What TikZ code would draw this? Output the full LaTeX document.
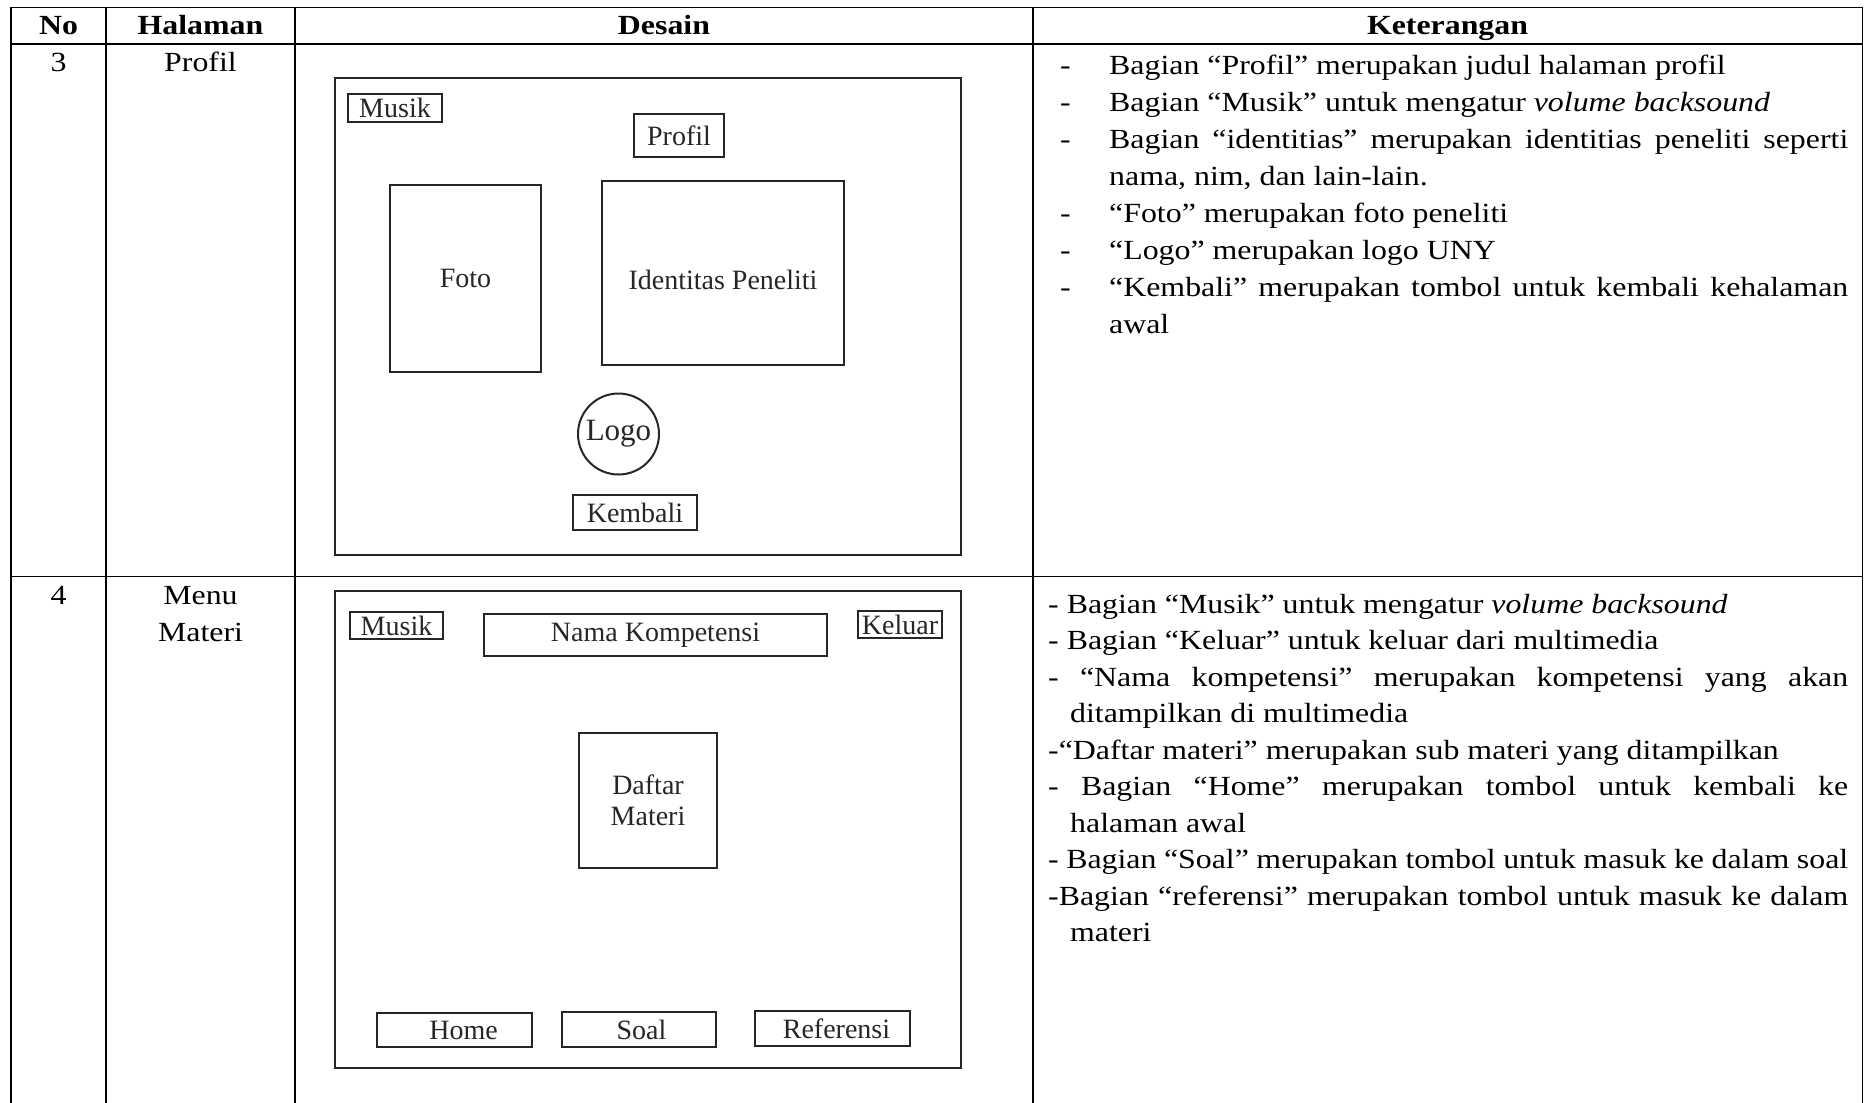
\documentclass[tikz,border=0pt]{standalone}
\usepackage{fontspec}
\setmainfont{Liberation Serif}[FakeStretch=1.15]
\newfontfamily\sketchfont{Liberation Serif}
\usetikzlibrary{positioning}

\hyphenpenalty=10000
\exhyphenpenalty=10000

% one item of a "Keterangan" list
\newcommand{\butir}[1]{\noindent\hangindent=49pt\hangafter=1\strut\makebox[49pt][l]{-}#1\par}
\newcommand{\poin}[1]{\noindent\hangindent=22pt\hangafter=1\strut#1\par}

\tikzset{
  rule/.style={line width=1.8pt, line cap=rect},
  screen/.style={draw=black!85, line width=2pt, inner sep=0pt},
  ui/.style={draw=black!85, line width=2pt, inner sep=0pt, text=black!85,
    font=\sketchfont\fontsize{28}{31}\selectfont},
  head/.style={font=\bfseries\fontsize{27.7}{37}\selectfont, anchor=base},
  cell/.style={font=\fontsize{27.7}{37}\selectfont, anchor=base},
  notes/.style={anchor=north west, inner sep=0pt, align=justify},
}

\begin{document}
\begin{tikzpicture}[x=1pt,y=-1pt]
  \useasboundingbox (0,0) rectangle (1864,1103);

  % table rules
  \foreach \y in {7.5,44,576.5}
    \draw[rule] (11,\y) -- (1862.5,\y);
  \foreach \x in {11,106,295,1033,1862.5}
    \draw[rule] (\x,7.5) -- (\x,1110);

  % header
  \node[head] (hNo) at (58.5,34) {No};
  \node[head] (hHal) at (200.5,34) {Halaman};
  \node[head] (hDes) at (664,34) {Desain};
  \node[head] (hKet) at (1447.5,34) {Keterangan};

  % row 3: profil
  \node[cell] (no3) at (58.5,71) {3};
  \node[cell] (hal3) at (200.5,71) {Profil};

  \node[screen, minimum width=626pt, minimum height=477pt] (layar3) at (648,316.5) {};
  \begin{scope}[every node/.style={ui}]
    \node[minimum width=94pt, minimum height=28pt] (musik3) at (395,107.5) {Musik};
    \node[minimum width=90pt, minimum height=43pt] (judul3) at (679,135.5) {Profil};
    \node[minimum width=151pt, minimum height=187pt] (foto3) at (465.5,278.5) {Foto};
    \node[minimum width=242pt, minimum height=184pt, text height=32pt, text depth=0pt] (ident3) at (723,273) {Identitas Peneliti};
    \node[circle, minimum size=81pt, font=\sketchfont\fontsize{31}{34}\selectfont] (logo3) at (618.5,434) {Logo};
    \node[minimum width=124pt, minimum height=35pt] (kembali3) at (635,512.5) {Kembali};
  \end{scope}

  \node[notes, text width=788pt, font=\fontsize{27.7}{37}\selectfont] (ket3) at (1060,48) {%
    \butir{Bagian “Profil” merupakan judul halaman profil}
    \butir{Bagian “Musik” untuk mengatur \textit{volume backsound}}
    \butir{Bagian “identitias” merupakan identitias peneliti seperti\linebreak nama, nim, dan lain-lain.}
    \butir{“Foto” merupakan foto peneliti}
    \butir{“Logo” merupakan logo UNY}
    \butir{“Kembali” merupakan tombol untuk kembali kehalaman\linebreak awal}};

  % row 4: menu materi
  \node[cell] (no4) at (58.5,604) {4};
  \node[cell, anchor=north, align=center, inner sep=0pt] (hal4) at (200.5,578.1) {\strut Menu\\Materi};

  \node[screen, minimum width=626pt, minimum height=477pt] (layar4) at (648,829.5) {};
  \begin{scope}[every node/.style={ui}]
    \node[minimum width=93pt, minimum height=27pt] (musik4) at (396.5,625.5) {Musik};
    \node[minimum width=343pt, minimum height=42pt] (nama4) at (655.5,635) {Nama Kompetensi};
    \node[minimum width=84pt, minimum height=27pt] (keluar4) at (900,624.5) {Keluar};
    \node[minimum width=138pt, minimum height=135pt, align=center] (daftar4) at (648,800.5) {Daftar\\Materi};
    \node[minimum width=155pt, minimum height=34pt] (home4) at (454.5,1030) {\hspace*{18pt}Home};
    \node[minimum width=154pt, minimum height=35pt] (soal4) at (639,1029.5) {\hspace*{5pt}Soal};
    \node[minimum width=155pt, minimum height=35pt] (ref4) at (832.5,1028.5) {\hspace*{8pt}Referensi};
  \end{scope}

  \node[notes, text width=800pt, font=\fontsize{27.7}{36.5}\selectfont] (ket4) at (1048,587.5) {%
    \poin{- Bagian “Musik” untuk mengatur \textit{volume backsound}}
    \poin{- Bagian “Keluar” untuk keluar dari multimedia}
    \poin{- “Nama kompetensi” merupakan kompetensi yang akan\linebreak ditampilkan di multimedia}
    \poin{-“Daftar materi” merupakan sub materi yang ditampilkan}
    \poin{- Bagian “Home” merupakan tombol untuk kembali ke\linebreak halaman awal}
    \poin{- Bagian “Soal” merupakan tombol untuk masuk ke dalam soal}
    \poin{-Bagian “referensi” merupakan tombol untuk masuk ke dalam\linebreak materi}};
\end{tikzpicture}
\end{document}
